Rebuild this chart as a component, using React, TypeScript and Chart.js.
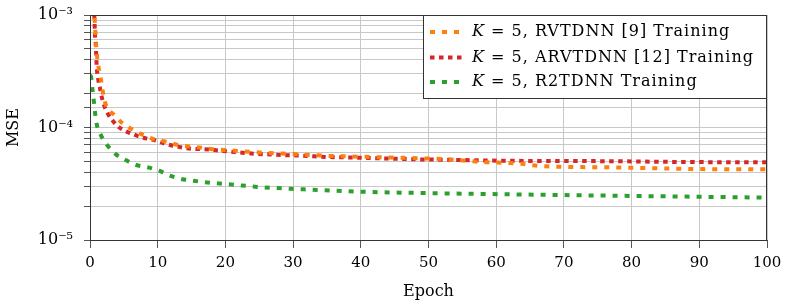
import React, { useEffect, useRef } from 'react';
import { Chart, registerables } from 'chart.js';

Chart.register(...registerables);

// ---- data ----
const epochsRV = [0.55, 0.75, 0.9, 1.1, 1.4, 1.72, 1.97, 2.36, 3.6, 4.8, 6.4, 9.35, 11.1, 13, 16.5, 18.2, 20, 25, 30, 35, 40, 45, 50, 53, 56.6, 58.6, 60.3, 63.8, 65.5, 67.2, 70.7, 76, 84.7, 90, 100];
const mseRV = [1.2e-3, 8.0e-4, 5.5e-4, 4.0e-4, 3.1e-4, 2.47e-4, 1.95e-4, 1.58e-4, 1.29e-4, 1.09e-4, 9.5e-5, 7.9e-5, 7.5e-5, 7.0e-5, 6.6e-5, 6.4e-5, 6.3e-5, 6.0e-5, 5.8e-5, 5.6e-5, 5.5e-5, 5.4e-5, 5.3e-5, 5.2e-5, 5.0e-5, 4.91e-5, 4.88e-5, 4.76e-5, 4.61e-5, 4.52e-5, 4.46e-5, 4.43e-5, 4.33e-5, 4.27e-5, 4.25e-5];

const epochsARV = [0.55, 0.64, 0.74, 0.84, 0.99, 1.23, 1.48, 1.72, 2.07, 2.6, 3.45, 4.33, 5.4, 6.65, 7.9, 9.4, 10.6, 11.8, 13, 14.3, 17, 19.5, 23.4, 27.3, 31.3, 35.2, 39.1, 43.1, 48.5, 55.1, 60.3, 67, 76, 89, 100];
const mseARV = [1.2e-3, 9.7e-4, 6.6e-4, 5.6e-4, 3.5e-4, 2.64e-4, 2.23e-4, 1.88e-4, 1.58e-4, 1.34e-4, 1.13e-4, 1.0e-4, 9.2e-5, 8.58e-5, 8.1e-5, 7.75e-5, 7.33e-5, 6.99e-5, 6.75e-5, 6.53e-5, 6.4e-5, 6.2e-5, 5.9e-5, 5.73e-5, 5.61e-5, 5.47e-5, 5.4e-5, 5.32e-5, 5.21e-5, 5.14e-5, 5.07e-5, 5.04e-5, 5.02e-5, 4.93e-5, 4.91e-5];

const epochsR2 = [0, 0.15, 0.34, 0.55, 0.74, 0.99, 1.58, 2.56, 3.8, 5.27, 6.84, 8.5, 10.2, 11.8, 13.5, 15.3, 17, 18.7, 20.4, 25.6, 31, 36.2, 41.6, 48.3, 59.1, 69.4, 76.5, 88, 100];
const mseR2 = [2.9e-4, 2.83e-4, 2.23e-4, 1.75e-4, 1.37e-4, 1.07e-4, 8.6e-5, 6.95e-5, 5.8e-5, 5.14e-5, 4.64e-5, 4.43e-5, 4.13e-5, 3.73e-5, 3.49e-5, 3.36e-5, 3.26e-5, 3.19e-5, 3.13e-5, 2.94e-5, 2.83e-5, 2.74e-5, 2.67e-5, 2.62e-5, 2.56e-5, 2.51e-5, 2.48e-5, 2.43e-5, 2.38e-5];

const xTicks = [0, 10, 20, 30, 40, 50, 60, 70, 80, 90, 100];
const yDecades = [1e-5, 1e-4, 1e-3];
const yTickLabels = ['10⁻⁵', '10⁻⁴', '10⁻³'];
const legendNames = [' = 5, RVTDNN [9] Training', ' = 5, ARVTDNN [12] Training', ' = 5, R2TDNN Training'];
const legendVar = 'K';
const xTitle = 'Epoch';
const yTitle = 'MSE';

const colors = ['#ff7f0e', '#d62728', '#2ca02c'];
const dashes = [[5, 7], [4.5, 4.5], [5, 7]];
const SERIF = '"DejaVu Serif", "Liberation Serif", serif';

export default function App() {
  const ref = useRef<HTMLCanvasElement>(null);

  useEffect(() => {
    if (!ref.current) return;
    const toPts = (xs: number[], ys: number[]) => xs.map((x, i) => ({ x, y: ys[i] }));

    const framePlugin = {
      id: 'frameLegend',
      afterDraw(chart: any) {
        const { ctx, chartArea: a } = chart;
        ctx.save();
        ctx.strokeStyle = '#333';
        ctx.lineWidth = 1;
        ctx.setLineDash([]);
        ctx.strokeRect(a.left + 0.5, a.top + 0.5, a.right - a.left - 1, a.bottom - a.top);
        const bx = 423, by = a.top, bw = a.right - 423, bh = 83;
        ctx.fillStyle = '#fff';
        ctx.fillRect(bx, by, bw, bh);
        ctx.strokeStyle = '#333';
        ctx.strokeRect(bx + 0.5, by + 0.5, bw - 1, bh);
        const rows = [32, 57.5, 82];
        legendNames.forEach((name, i) => {
          const y = rows[i];
          ctx.strokeStyle = colors[i];
          ctx.lineWidth = 4;
          ctx.lineCap = 'butt';
          ctx.setLineDash(dashes[i]);
          ctx.beginPath();
          ctx.moveTo(430, y);
          ctx.lineTo(462, y);
          ctx.stroke();
          ctx.setLineDash([]);
          ctx.fillStyle = '#000';
          ctx.textBaseline = 'middle';
          ctx.textAlign = 'left';
          (ctx as any).letterSpacing = '1px';
          ctx.font = `italic 16px ${SERIF}`;
          ctx.fillText(legendVar, 472, y);
          const w = ctx.measureText(legendVar).width;
          ctx.font = `16px ${SERIF}`;
          ctx.fillText(name, 472 + w, y);
          (ctx as any).letterSpacing = '0px';
        });
        ctx.restore();
      },
    };

    const mk = (label: string, xs: number[], ys: number[], i: number) => ({
      label,
      data: toPts(xs, ys),
      borderColor: colors[i],
      backgroundColor: colors[i],
      borderWidth: 4,
      borderDash: dashes[i],
      borderCapStyle: 'butt' as const,
      pointRadius: 0,
      fill: false,
      cubicInterpolationMode: 'monotone' as const,
    });

    const chart = new Chart(ref.current, {
      type: 'line',
      data: {
        datasets: [
          mk('K = 5, RVTDNN [9] Training', epochsRV, mseRV, 0),
          mk('K = 5, ARVTDNN [12] Training', epochsARV, mseARV, 1),
          mk('K = 5, R2TDNN Training', epochsR2, mseR2, 2),
        ],
      },
      options: {
        animation: false,
        responsive: false,
        devicePixelRatio: 1,
        layout: { padding: { left: 0, right: 21, top: 15, bottom: 0 } },
        plugins: { legend: { display: false }, tooltip: { enabled: false } },
        scales: {
          x: {
            type: 'linear',
            min: 0,
            max: 100,
            afterBuildTicks: (s: any) => {
              s.ticks = xTicks.map((v) => ({ value: v }));
            },
            afterFit: (s: any) => {
              s.height = 66;
              s.paddingLeft = 0;
              s.paddingRight = 0;
            },
            ticks: {
              font: { family: SERIF, size: 15 },
              color: '#000',
              padding: 6,
              maxRotation: 0,
              autoSkip: false,
            },
            grid: { color: '#c8c8c8', tickColor: '#555', tickLength: 8, lineWidth: 1 },
            border: { color: '#444' },
            title: { display: true, text: xTitle, font: { family: SERIF, size: 16 }, color: '#000', padding: { top: 0, bottom: 5 } },
          },
          y: {
            type: 'logarithmic',
            min: 1e-5,
            max: 1e-3,
            afterFit: (s: any) => {
              s.width = 90;
              s.paddingTop = 0;
              s.paddingBottom = 0;
            },
            ticks: {
              font: { family: SERIF, size: 16 },
              color: '#000',
              padding: 11,
              autoSkip: false,
              callback: (v: any) => {
                const idx = yDecades.findIndex((d) => Math.abs(Math.log10(Number(v)) - Math.log10(d)) < 1e-6);
                return idx >= 0 ? yTickLabels[idx] : '';
              },
            },
            grid: { color: '#c8c8c8', tickColor: '#555', tickLength: 6, lineWidth: 1 },
            border: { color: '#000' },
            title: { display: true, text: yTitle, font: { family: SERIF, size: 16 }, color: '#000', padding: { top: 4, bottom: 0 } },
          },
        },
      },
      plugins: [framePlugin],
    } as any);

    return () => chart.destroy();
  }, []);

  return (
    <div style={{ position: 'fixed', left: 0, top: 0, width: 788, height: 306, background: '#fff' }}>
      <canvas ref={ref} width={788} height={306} style={{ display: 'block', width: 788, height: 306 }} />
    </div>
  );
}
